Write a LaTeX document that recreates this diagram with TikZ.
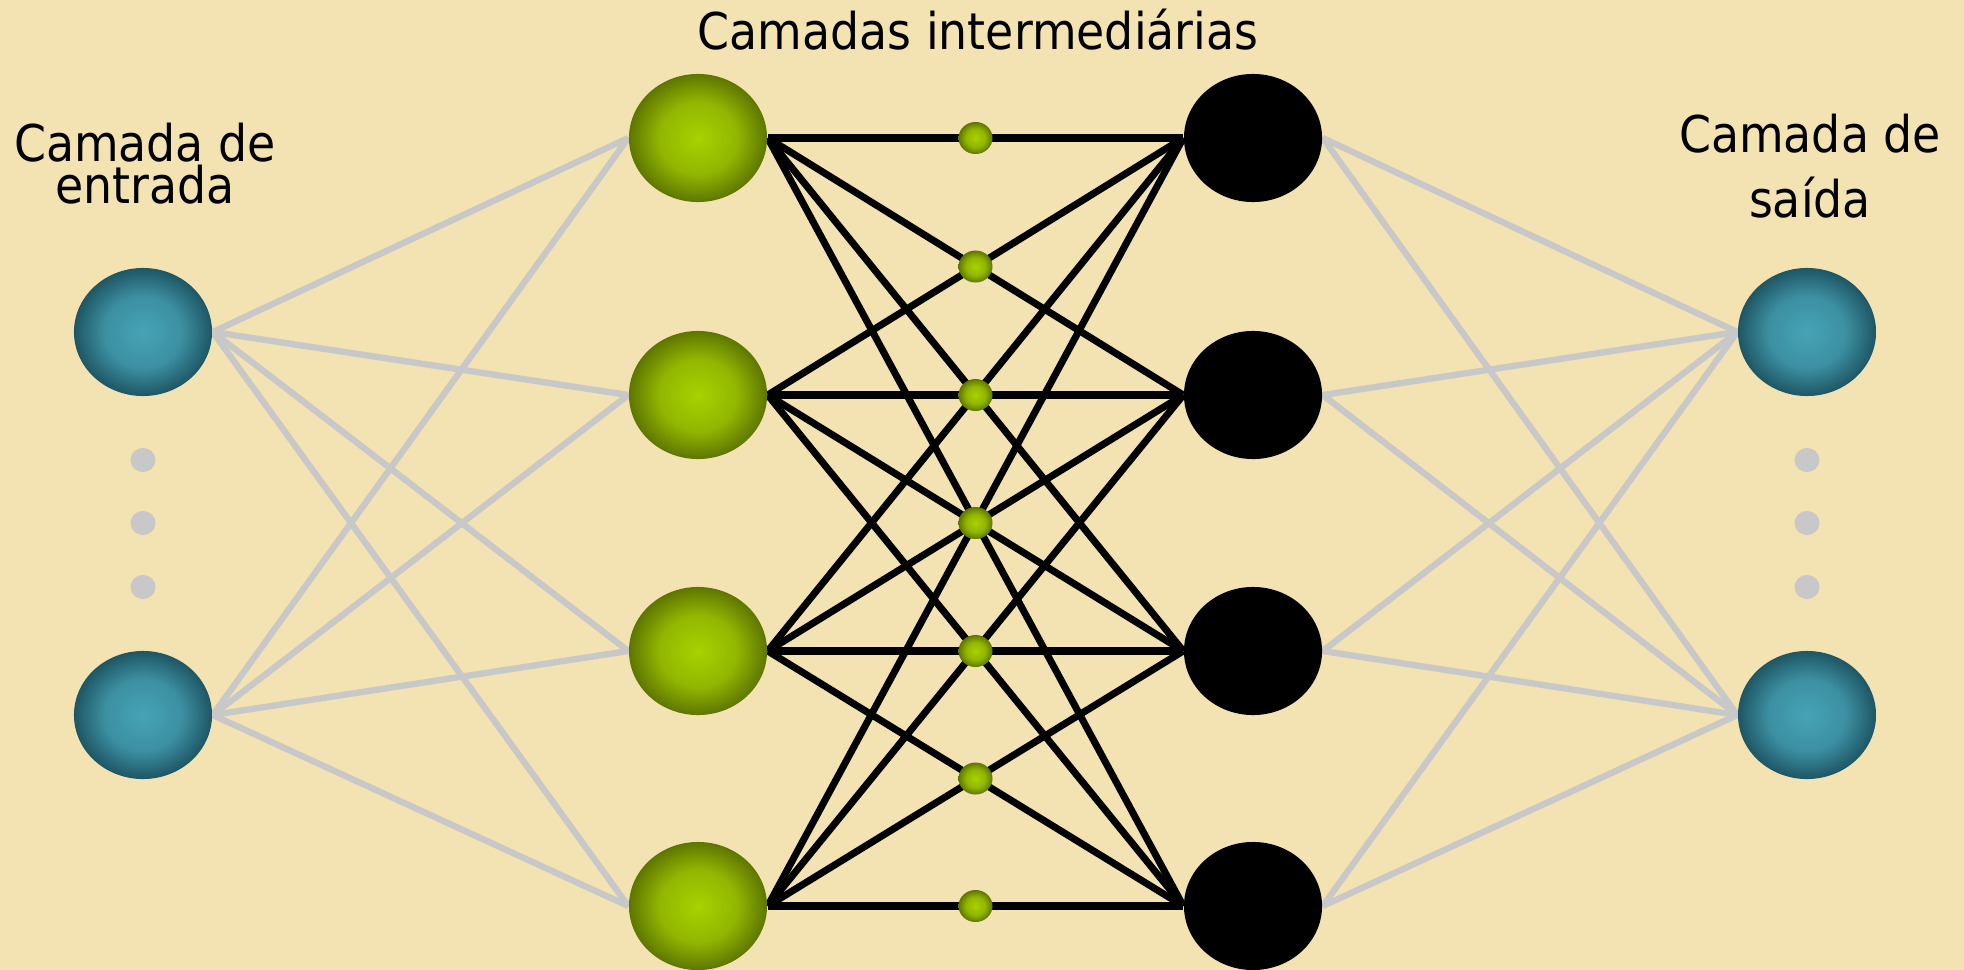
\documentclass[tikz,border=0pt]{standalone}
\usepackage{fontspec}
\setmainfont[FakeStretch=0.905]{DejaVu Sans}
\usetikzlibrary{shapes.geometric}
\pgfdeclarelayer{bg}
\pgfdeclarelayer{edges}
\pgfsetlayers{bg,edges,main}
\definecolor{bgc}{RGB}{243,227,178}
\definecolor{linegray}{RGB}{200,200,200}
\definecolor{tealL}{RGB}{70,163,182}
\definecolor{tealD}{RGB}{30,86,100}
\definecolor{grnL}{RGB}{168,210,0}
\definecolor{grnD}{RGB}{94,118,0}
\pgfdeclareradialshading{tealball}{\pgfpoint{0bp}{0bp}}{color(0bp)=(tealL); color(14bp)=(tealL!75!tealD); color(25bp)=(tealD); color(50bp)=(tealD)}
\pgfdeclareradialshading{greenball}{\pgfpoint{0bp}{0bp}}{color(0bp)=(grnL); color(14bp)=(grnL!70!grnD); color(25bp)=(grnD); color(50bp)=(grnD)}
\begin{document}
\begin{tikzpicture}[x=0.01cm,y=-0.01cm,
  inball/.style={ellipse, minimum width=1.38cm, minimum height=1.28cm, inner sep=0pt, shade, shading=tealball},
  hidball/.style={ellipse, minimum width=1.38cm, minimum height=1.28cm, inner sep=0pt, shade, shading=greenball},
  blkball/.style={ellipse, minimum width=1.38cm, minimum height=1.28cm, inner sep=0pt, fill=black},
  smalldot/.style={ellipse, minimum width=0.34cm, minimum height=0.32cm, inner sep=0pt, shade, shading=greenball},
  graydot/.style={ellipse, minimum width=0.25cm, minimum height=0.24cm, inner sep=0pt, fill=linegray},
  grayline/.style={draw=linegray, line width=1.8pt},
  blackline/.style={draw=black, line width=2pt},
  lbl/.style={inner sep=0pt, font=\fontsize{14.4pt}{17pt}\selectfont}
]
\begin{pgfonlayer}{bg}
\fill[bgc] (0,0) rectangle (1964,970);
\end{pgfonlayer}
\useasboundingbox (0,0) rectangle (1964,970);

% input layer
\node[inball] (in1) at (143,332) {};
\node[inball] (in2) at (143,715) {};
\node[graydot] (ld1) at (143,460) {};
\node[graydot] (ld2) at (143,523) {};
\node[graydot] (ld3) at (143,587) {};

% hidden layers
\foreach \k/\yy in {1/138,2/395,3/651,4/906}{
  \node[hidball] (g\k) at (698,\yy) {};
  \node[blkball] (b\k) at (1253,\yy) {};
}

% output layer
\node[inball] (out1) at (1807,332) {};
\node[inball] (out2) at (1807,715) {};
\node[graydot] (rd1) at (1807,460) {};
\node[graydot] (rd2) at (1807,523) {};
\node[graydot] (rd3) at (1807,587) {};

% small dots at the crossings
\path (g1.east) -- (b1.west) node[midway, smalldot] (m1) {};
\path (g1.east) -- (b2.west) node[midway, smalldot] (m2) {};
\path (g2.east) -- (b2.west) node[midway, smalldot] (m3) {};
\path (g2.east) -- (b3.west) node[midway, smalldot] (m4) {};
\path (g3.east) -- (b3.west) node[midway, smalldot] (m5) {};
\path (g3.east) -- (b4.west) node[midway, smalldot] (m6) {};
\path (g4.east) -- (b4.west) node[midway, smalldot] (m7) {};

\begin{pgfonlayer}{edges}
\foreach \i in {1,2}{
  \foreach \j in {1,...,4}{
    \draw[grayline] (in\i.east) -- (g\j.west);
    \draw[grayline] (b\j.east) -- (out\i.west);
  }
}
\foreach \i in {1,...,4}{
  \foreach \j in {1,...,4}{
    \draw[blackline] (g\i.east) -- (b\j.west);
  }
}
\end{pgfonlayer}

% labels
\node[lbl, anchor=base] (tTop) at (978,50) {Camadas intermediárias};
\node[lbl, anchor=base, align=center, font=\fontsize{14.4pt}{12pt}\selectfont] (tIn) at (145,204) {Camada de\\entrada};
\node[lbl, anchor=base, align=center, font=\fontsize{14.4pt}{18.2pt}\selectfont] (tOut) at (1810,217) {Camada de\\saída};
\end{tikzpicture}
\end{document}
